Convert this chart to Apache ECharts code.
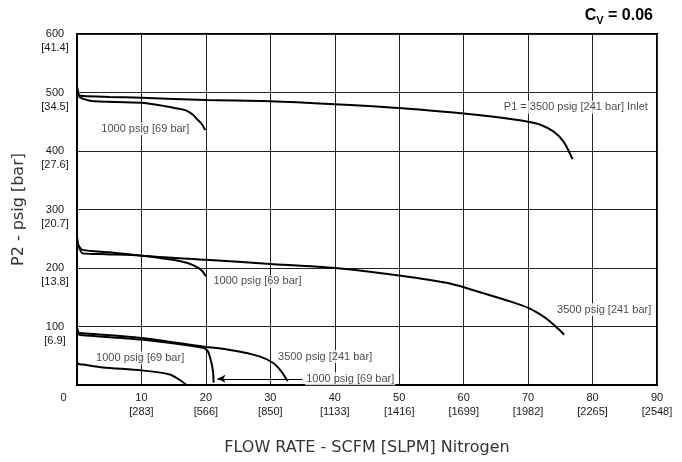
<!DOCTYPE html>
<html>
<head>
<meta charset="utf-8">
<script src="https://cdn.jsdelivr.net/npm/echarts@6/dist/echarts.min.js"></script>
<style>html,body{margin:0;padding:0;background:#fff}#c{width:682px;height:462px}</style>
</head>
<body>
<div id="c"></div>
<script>
// Tick labels
var xTicks = [0, 10, 20, 30, 40, 50, 60, 70, 80, 90];
var xTicksSlpm = ['', '283', '566', '850', '1133', '1416', '1699', '1982', '2265', '2548'];
var yTicks = [0, 100, 200, 300, 400, 500, 600];
var yTicksBar = ['', '6.9', '13.8', '20.7', '27.6', '34.5', '41.4'];

// Curves: flow (SCFM) and outlet pressure P2 (psig)
var flowA = [0, 0.3, 1, 5, 10, 20, 30, 40, 50, 60, 65, 70, 72, 74, 75.5, 76.9];
var p2A   = [510, 496, 494, 492.5, 491, 487, 485, 480, 473.5, 464, 458, 450, 444.5, 433, 416, 386];
var flowB = [0, 0.3, 1, 2, 3.5, 10, 13, 14.9, 16, 17, 18, 18.5, 19.3, 19.9];
var p2B   = [510, 493, 489, 486, 484.5, 482.5, 478, 474, 472, 469, 462, 456, 447, 436];
var flowC = [0, 0.2, 0.9, 5, 10, 20, 30, 40, 50, 58, 63, 67.2, 70.1, 71.8, 73.4, 74.7, 75.6];
var p2C   = [253, 240, 231, 227, 221, 214, 207, 200, 187, 173, 157, 143, 131.5, 121, 108.7, 95.6, 86];
var flowD = [0, 0.2, 0.9, 4.5, 10, 14.9, 17, 18, 19, 19.5, 20];
var p2D   = [253, 238, 225, 223.5, 221, 214, 209, 205, 199, 194, 186];
var flowE = [0, 0.3, 0.9, 10, 19.5, 24, 28.3, 30.4, 31.7, 32.7];
var p2E   = [98, 89, 88.5, 80.5, 66, 59.4, 49, 38, 23.5, 6.5];
var flowF = [0, 0.3, 0.9, 10, 19.5, 20.3, 20.8, 21.1, 21.2];
var p2F   = [98, 86, 85, 77.6, 63.5, 57.7, 40.6, 23.5, 4];
var flowG = [0, 0.2, 0.9, 4, 10, 14.4, 15.9, 17];
var p2G   = [41, 36, 35, 30, 25, 18, 9, 0];

// Annotations (anchored in data coordinates)
var noteText = ['1000 psig [69 bar]', 'P1 = 3500 psig [241 bar] Inlet', '1000 psig [69 bar]', '3500 psig [241 bar]', '1000 psig [69 bar]', '3500 psig [241 bar]', '1000 psig [69 bar]'];
var noteFlow = [10.6, 77.4, 28.0, 81.8, 9.8, 38.5, 42.4];
var noteP2   = [438, 475, 177, 129, 46.4, 48.6, 10.6];
var arrowFrom = [35.0, 10.6];
var arrowTo   = [21.8, 10.6];

function pts(xs, ys) { return xs.map(function (x, i) { return [x, ys[i]]; }); }
function curve(xs, ys) {
  return {
    type: 'line', data: pts(xs, ys), showSymbol: false, symbol: 'none',
    smooth: 0.25,
    lineStyle: { color: '#000', width: 2 }, silent: true, z: 3
  };
}

var chart = echarts.init(document.getElementById('c'), null, { renderer: 'canvas' });
var tickFont = 'Liberation Sans, Arial, sans-serif';
var series = [
  curve(flowA, p2A), curve(flowB, p2B), curve(flowC, p2C), curve(flowD, p2D),
  curve(flowE, p2E), curve(flowF, p2F), curve(flowG, p2G),
  {
    type: 'scatter', symbolSize: 0, z: 5, silent: true,
    data: noteText.map(function (t, i) { return [noteFlow[i], noteP2[i], t]; }),
    label: {
      show: true, position: 'inside', formatter: function (p) { return p.value[2]; },
      fontFamily: tickFont, fontSize: 11, color: '#1a1a1a',
      backgroundColor: '#fff', padding: [1, 1, 1, 1]
    }
  },
  {
    type: 'line', data: [], silent: true,
    markLine: {
      silent: true, symbol: ['none', 'arrow'], symbolSize: [6, 8],
      lineStyle: { color: '#000', width: 1, type: 'solid' },
      label: { show: false },
      data: [[{ coord: arrowFrom }, { coord: arrowTo }]]
    }
  }
];

chart.setOption({
  animation: false,
  backgroundColor: '#fff',
  title: {
    text: '{c|C}{s|V}{c| = 0.06}', right: 24, top: 1,
    textStyle: {
      rich: {
        c: { fontFamily: tickFont, fontSize: 16, fontWeight: 'bold', color: '#000' },
        s: { fontFamily: tickFont, fontSize: 11, fontWeight: 'bold', color: '#000', padding: [9, 0, 0, 0] }
      }
    }
  },
  grid: { left: 77, right: 25, top: 34, bottom: 77, show: true, borderColor: '#000', borderWidth: 2, backgroundColor: 'transparent' },
  xAxis: {
    type: 'value', min: 0, max: 90, interval: 10,
    name: 'FLOW RATE - SCFM [SLPM] Nitrogen', nameLocation: 'middle', nameGap: 55,
    nameTextStyle: { fontFamily: 'DejaVu Sans', fontSize: 16, color: '#333' },
    axisLine: { show: true, lineStyle: { color: '#000', width: 2 } },
    axisTick: { show: false },
    splitLine: { show: true, lineStyle: { color: '#222', width: 1 } },
    axisLabel: {
      margin: 6, fontFamily: tickFont, fontSize: 11, color: '#1a1a1a', lineHeight: 14,
      formatter: function (v) {
        var i = xTicks.indexOf(v);
        if (v === 0) return '{z|0}';
        return v + '\n[' + xTicksSlpm[i] + ']';
      },
      rich: { z: { fontFamily: tickFont, fontSize: 11, color: '#1a1a1a', padding: [0, 27, 0, 0] } }
    }
  },
  yAxis: {
    type: 'value', min: 0, max: 600, interval: 100,
    name: 'P2 - psig [bar]', nameLocation: 'middle', nameGap: 50, nameRotate: 90,
    nameTextStyle: { fontFamily: 'DejaVu Sans', fontSize: 16, color: '#333' },
    axisLine: { show: true, lineStyle: { color: '#000', width: 2 } },
    axisTick: { show: false },
    splitLine: { show: true, lineStyle: { color: '#222', width: 1 } },
    axisLabel: {
      margin: 22, align: 'center', fontFamily: tickFont, fontSize: 11, color: '#1a1a1a', lineHeight: 14,
      verticalAlign: 'middle',
      formatter: function (v) {
        var i = yTicks.indexOf(v);
        if (v === 0) return '';
        return '\n' + v + '\n[' + yTicksBar[i] + ']';
      }
    }
  },
  series: series
});
</script>
</body>
</html>
